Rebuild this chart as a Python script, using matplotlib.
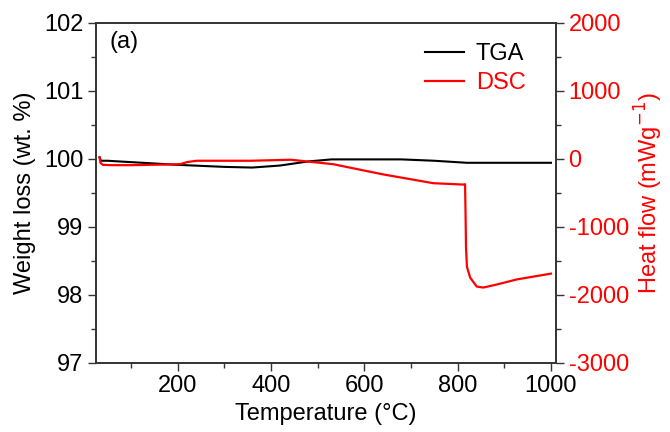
import matplotlib
matplotlib.use("Agg")
import matplotlib.pyplot as plt
from matplotlib.ticker import MultipleLocator

plt.rcParams['font.family'] = ['Liberation Sans', 'DejaVu Sans']
plt.rcParams['axes.unicode_minus'] = False

# TGA data
tga_temp = [33, 36, 50, 100, 200, 300, 360, 420, 480, 530, 600, 680, 750, 820, 900, 1000]
tga_wt = [100.02, 99.97, 99.97, 99.95, 99.91, 99.88, 99.87, 99.90, 99.96, 99.99, 99.99, 99.99, 99.97, 99.94, 99.94, 99.94]

# DSC data
dsc_temp = [33, 35, 40, 60, 100, 180, 206, 220, 241, 300, 356, 443, 477, 533, 640, 748, 812, 816,
            817, 818, 820, 827, 841, 855, 884, 927, 1000]
dsc_flow = [20, -60, -90, -95, -95, -85, -80, -50, -30, -30, -30, -15, -40, -80, -230, -360, -380, -375,
            -800, -1300, -1590, -1750, -1880, -1895, -1850, -1775, -1690]

fig = plt.figure(figsize=(6.7, 4.32), dpi=100)
ax = fig.add_axes([0.143, 0.1604, 0.687, 0.787])
ax2 = ax.twinx()

spine_c = '#333333'
l1, = ax.plot(tga_temp, tga_wt, color='black', lw=1.5, label='TGA')
l2, = ax2.plot(dsc_temp, dsc_flow, color='#ff0000', lw=1.6, label='DSC')

ax.set_xlim(25, 1011)
ax.set_ylim(97, 102)
ax2.set_ylim(-3000, 2000)

ax.xaxis.set_major_locator(MultipleLocator(200))
ax.xaxis.set_minor_locator(MultipleLocator(100))
ax.yaxis.set_major_locator(MultipleLocator(1))
ax.yaxis.set_minor_locator(MultipleLocator(0.5))
ax2.yaxis.set_major_locator(MultipleLocator(1000))
ax2.yaxis.set_minor_locator(MultipleLocator(500))

ax.set_xticks([200, 400, 600, 800, 1000])
ax.set_xticklabels(['200', '400', '600', '800', '1000'])

fs = 17
ax.tick_params(axis='both', which='major', direction='out', length=6, width=1, labelsize=fs, colors=spine_c, labelcolor='black', pad=3)
ax.tick_params(axis='both', which='minor', direction='out', length=3.5, width=1, colors=spine_c)
ax2.tick_params(axis='y', which='major', direction='out', length=6, width=1, labelsize=fs, colors=spine_c, labelcolor='#ff0000', pad=3)
ax2.tick_params(axis='y', which='minor', direction='out', length=3.5, width=1, colors=spine_c)
for a in (ax, ax2):
    for s in a.spines.values():
        s.set_color(spine_c)
        s.set_linewidth(1.2)

ax.set_xlabel('Temperature (°C)', fontsize=fs, labelpad=4)
ax.set_ylabel('Weight loss (wt. %)', fontsize=fs, labelpad=6)
ax2.set_ylabel('Heat flow (mWg$^{-1}$)', fontsize=fs, color='#ff0000', labelpad=3)

ax.text(0.03, 0.975, '(a)', transform=ax.transAxes, fontsize=fs, va='top', ha='left')

leg = ax.legend(handles=[l1, l2], loc='upper right', frameon=False, fontsize=fs,
                handlelength=1.65, borderaxespad=0.9, labelspacing=0.3, handletextpad=0.5,
                bbox_to_anchor=(1.0, 1.03))
for t, c in zip(leg.get_texts(), ['black', '#ff0000']):
    t.set_color(c)

fig.savefig('out.png', dpi=100)
